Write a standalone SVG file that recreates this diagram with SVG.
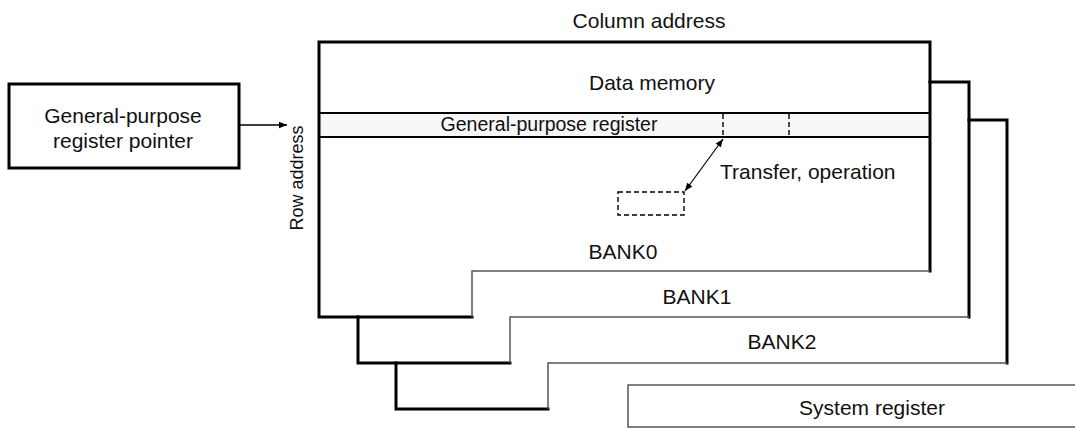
<svg xmlns="http://www.w3.org/2000/svg" width="1075" height="428" viewBox="0 0 1075 428">
<style>
text{font-family:"Liberation Sans",Arial,sans-serif;font-size:21px;fill:#111}
.thick{fill:none;stroke:#000;stroke-width:3;stroke-linecap:square}
.thin{fill:none;stroke:#555;stroke-width:1.5}
.dash{fill:none;stroke:#000;stroke-width:1.4;stroke-dasharray:5 3}
.mid{text-anchor:middle}
</style>
<defs>
<marker id="ah" viewBox="0 0 10 10" refX="10" refY="5" markerWidth="13" markerHeight="8" markerUnits="userSpaceOnUse" orient="auto-start-reverse">
<path d="M0,1 L10,5 L0,9 z" fill="#000"/>
</marker>
</defs>
<rect width="1075" height="428" fill="#fff"/>

<g id="system-register">
<rect x="628" y="385" width="460" height="42" class="thin"/>
<text x="872" y="415" class="mid">System register</text>
</g>

<g id="bank2">
<path d="M969,120 L1007,120 L1007,363" class="thick"/>
<path d="M396,363 L396,409 L548,409" class="thick"/>
<path d="M548,409 L548,363 L1007,363" class="thin"/>
<text x="782" y="349" class="mid">BANK2</text>
</g>

<g id="bank1">
<path d="M930,82 L969,82 L969,317" class="thick"/>
<path d="M358,317 L358,363 L510,363" class="thick"/>
<path d="M510,363 L510,317 L969,317" class="thin"/>
<text x="697" y="304" class="mid">BANK1</text>
</g>

<g id="bank0">
<rect x="319" y="113" width="611" height="24" fill="#f7f7f7"/>
<path d="M472,317 L319,317 L319,42 L930,42 L930,271" class="thick"/>
<path d="M472,317 L472,271 L930,271" class="thin"/>
<line x1="319" y1="113" x2="930" y2="113" stroke="#000" stroke-width="2"/>
<line x1="319" y1="137" x2="930" y2="137" stroke="#000" stroke-width="2"/>
<line x1="723" y1="114" x2="723" y2="136" class="dash"/>
<line x1="789" y1="114" x2="789" y2="136" class="dash"/>
<text x="652" y="90" class="mid">Data memory</text>
<text x="549" y="131" class="mid" style="font-size:19.5px">General-purpose register</text>
<rect x="618" y="192" width="66" height="23" class="dash"/>
<text x="623" y="259" class="mid">BANK0</text>
</g>

<g id="pointer">
<rect x="9" y="84" width="230" height="84" class="thick"/>
<text x="123" y="123" class="mid">General-purpose</text>
<text x="123" y="148" class="mid">register pointer</text>
</g>

<g id="labels">
<text x="649" y="28" class="mid">Column address</text>
<text transform="translate(303,178) rotate(-90)" class="mid" style="font-size:18px">Row address</text>
<text x="720" y="179">Transfer, operation</text>
</g>

<g id="connectors">
<line x1="240" y1="125" x2="287" y2="125" stroke="#000" stroke-width="1.3" marker-end="url(#ah)"/>
<line x1="685" y1="191" x2="723" y2="139" stroke="#000" stroke-width="1.2" marker-start="url(#ah)" marker-end="url(#ah)"/>
</g>
</svg>
